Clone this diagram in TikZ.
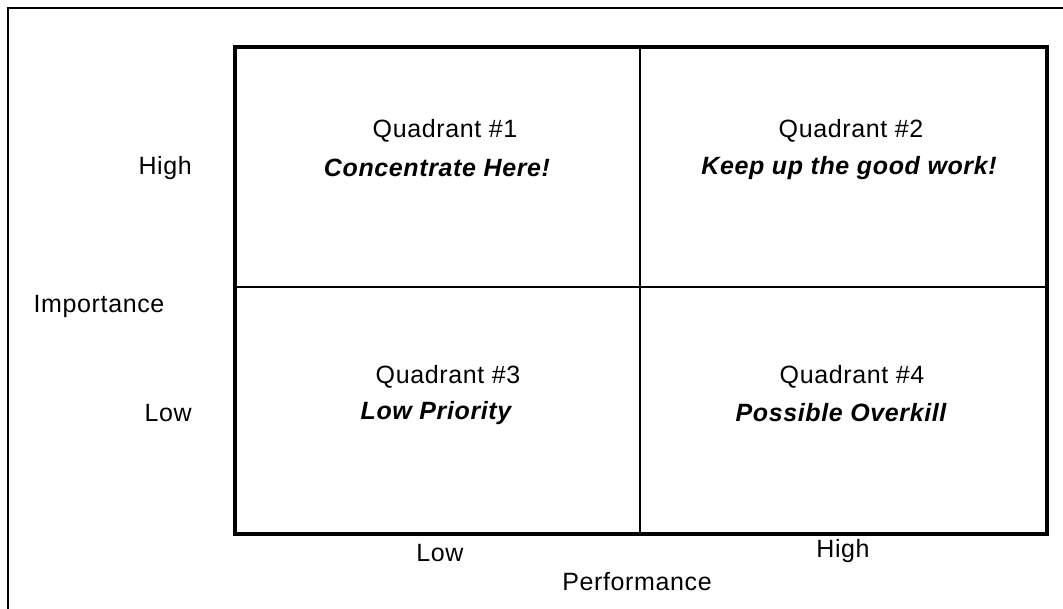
\documentclass[tikz,border=0pt]{standalone}
\usepackage{fontspec}
\setmainfont{Liberation Sans}[LetterSpace=2.5]
\begin{document}
\begin{tikzpicture}[x=1pt,y=-1pt,
  lbl/.style={inner sep=0pt,font=\fontsize{25}{29}\selectfont},
  em/.style={lbl,font=\fontsize{25}{29}\selectfont\bfseries\itshape},
  frame/.style={line width=2.5pt},
  grid/.style={line width=3.5pt},
  divider/.style={line width=1.6pt}]
  % page area
  \clip (0,0) rectangle (1063,608);
  \fill[white] (0,0) rectangle (1063,608);
  % outer frame, running off the right and bottom
  \draw[frame] (8,620) -- (8,8) -- (1075,8);

  % quadrant matrix
  \node[grid,draw,minimum width=812pt,minimum height=487pt,inner sep=0pt,anchor=north west] (box) at (233,45) {};
  \coordinate (mid) at (640,287);
  \draw[divider] (box.north -| mid) -- (box.south -| mid);
  \draw[divider] (box.west |- mid) -- (box.east |- mid);

  % quadrant texts
  \node[lbl] (q1) at (445,131) {Quadrant \#1};
  \node[em]  (t1) at (437,168) {Concentrate Here!};
  \node[lbl] (q2) at (851,131) {Quadrant \#2};
  \node[em]  (t2) at (849,168) {Keep up the good work!};
  \node[lbl] (q3) at (448,377) {Quadrant \#3};
  \node[em]  (t3) at (436,413) {Low Priority};
  \node[lbl] (q4) at (852,377) {Quadrant \#4};
  \node[em]  (t4) at (841,413) {Possible Overkill};

  % axis labels
  \node[lbl,anchor=east] (yhigh) at (192,168) {High};
  \node[lbl] (ylabel) at (99,306) {Importance};
  \node[lbl,anchor=east] (ylow) at (192,413) {Low};
  \node[lbl] (xlow) at (440,553) {Low};
  \node[lbl] (xhigh) at (843,551) {High};
  \node[lbl] (xlabel) at (637,582) {Performance};
\end{tikzpicture}
\end{document}
